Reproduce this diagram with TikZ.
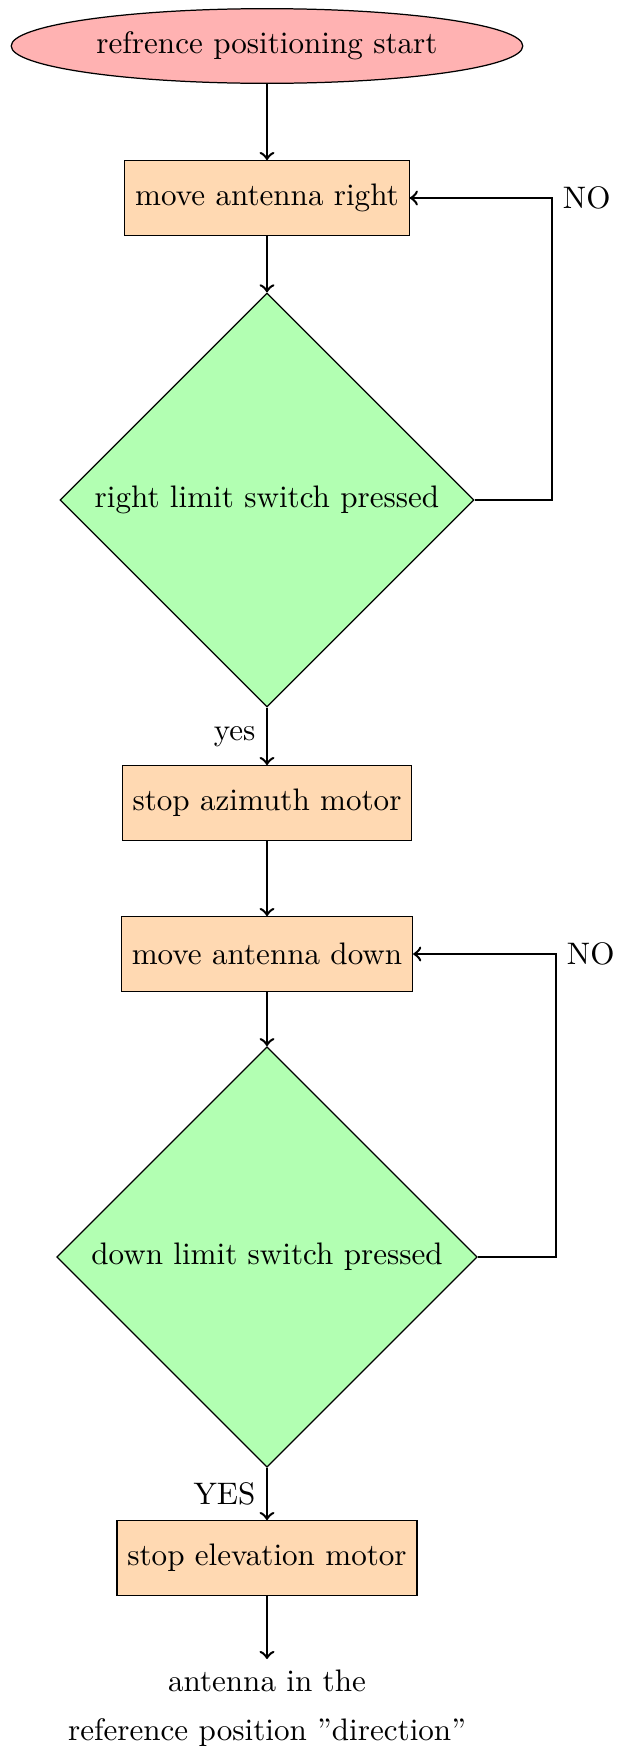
\documentclass[tikz,border=0pt]{standalone}
\usetikzlibrary{shapes.geometric}
\begin{document}
\begin{tikzpicture}[x=0.3215pt, y=-0.3215pt,
  startstop/.style={ellipse, draw=black, fill=red!30, minimum height=24pt},
  process/.style={rectangle, draw=black, fill=orange!30, minimum height=24pt},
  decision/.style={diamond, draw=black, fill=green!30, aspect=1},
  flow/.style={->, thick}]
\useasboundingbox (0,0) rectangle (617,1753);

% main column
\node[startstop] (start)  at (267,46)   {refrence positioning start};
\node[process]   (right)  at (267,198)  {move antenna right};
\node[decision]  (rsw)    at (267,500)  {right limit switch pressed};
\node[process]   (stopaz) at (267,803)  {stop azimuth motor};
\node[process]   (down)   at (267,954)  {move antenna down};
\node[decision]  (dsw)    at (267,1257) {down limit switch pressed};
\node[process]   (stopel) at (267,1558) {stop elevation motor};
\node[align=center, anchor=north] (done) at (267,1659)
  {antenna in the\\[3.8pt]reference position ''direction''};

% forward flow
\draw[flow] (start) -- (right);
\draw[flow] (right) -- (rsw);
\draw[flow] (rsw) -- node[left] (yeslbl) {yes} (stopaz);
\draw[flow] (stopaz) -- (down);
\draw[flow] (down) -- (dsw);
\draw[flow] (dsw) -- node[left] (YESlbl) {YES} (stopel);
\draw[flow] (stopel) -- (done);

% retry loops
\coordinate (rno) at (552,198);
\coordinate (dno) at (556,954);
\draw[flow] (rsw.east) -| (rno) -- (right.east);
\draw[flow] (dsw.east) -| (dno) -- (down.east);
\node[anchor=west] (rnolbl) at (rno) {NO};
\node[anchor=west] (dnolbl) at (dno) {NO};
\end{tikzpicture}
\end{document}
